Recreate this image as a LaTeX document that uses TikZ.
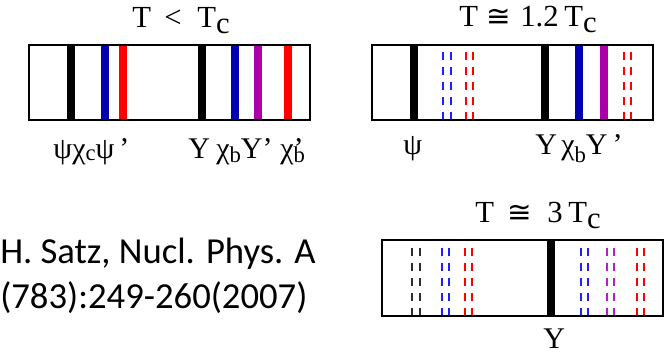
\documentclass[tikz,border=0pt]{standalone}
\usepackage{fontspec}
\setmainfont{Liberation Serif}
\newfontfamily\citefont{Carlito}
\newfontfamily\symfont{DejaVu Sans}
\definecolor{dblue}{RGB}{0,0,175}
\definecolor{lblue}{RGB}{30,30,255}
\definecolor{mpurple}{RGB}{170,0,170}
\definecolor{lpurple}{RGB}{180,30,200}
\definecolor{dgray}{RGB}{45,45,45}
\newcommand\lsub[2]{\raisebox{-#1pt}{\fontsize{17}{17}\selectfont #2}}
\newcommand\tsub[1]{\raisebox{-5pt}{#1}}
\newcommand\approxeqsym{{\symfont\fontsize{22}{22}\selectfont ≅}}
\begin{document}
\begin{tikzpicture}[x=0.75pt,y=-0.75pt,
  frame/.style={draw=black,line width=1.5pt},
  bar/.style={line width=6pt},
  dbar/.style={line width=1.5pt,dash pattern=on 6pt off 5.25pt},
  lbl/.style={font=\fontsize{22.5}{22.5}\selectfont,inner sep=0,anchor=base west},
  ttl/.style={font=\fontsize{23}{23}\selectfont,inner sep=0,anchor=base west},
  cite/.style={font=\citefont\fontsize{27.5}{27.5}\selectfont,inner sep=0,anchor=base west}]
\useasboundingbox (0,0) rectangle (666,361);

% ---------- box 1: T < Tc
\draw[bar,black]   (70.5,120) -- (70.5,45);
\draw[bar,dblue]   (104.5,120) -- (104.5,45);
\draw[bar,red]     (122.5,120) -- (122.5,45);
\draw[bar,black]   (201.5,120) -- (201.5,45);
\draw[bar,dblue]   (235,120) -- (235,45);
\draw[bar,mpurple] (257.5,120) -- (257.5,45);
\draw[bar,red]     (287.5,120) -- (287.5,45);
\draw[frame] (29,45) rectangle (310,120);
\node[ttl] (t1a) at (132,27) {T};
\node[ttl] (t1b) at (164,27) {<};
\node[ttl] (t1c) at (197,27) {T\tsub{c}};
\node[lbl] (l1a) at (53,158) {ψ};
\node[lbl] (l1b) at (72,158) {χ\lsub{2}{c}ψ\,’};
\node[lbl] (l1c) at (188,158) {Y};
\node[lbl] (l1d) at (216,158) {χ\lsub{3}{b}Y’};
\node[lbl] (l1e) at (280,158) {χ\rlap{’}\lsub{3}{b}};

% ---------- box 2: T ~ 1.2 Tc
\draw[bar,black]   (413.5,120) -- (413.5,45);
\draw[dbar,lblue]  (443,120) -- (443,45);
\draw[dbar,lblue]  (450.5,120) -- (450.5,45);
\draw[dbar,red]    (466,120) -- (466,45);
\draw[dbar,red]    (473,120) -- (473,45);
\draw[bar,black]   (544.5,120) -- (544.5,45);
\draw[bar,dblue]   (578.5,120) -- (578.5,45);
\draw[bar,mpurple] (604,120) -- (604,45);
\draw[dbar,red]    (623.5,120) -- (623.5,45);
\draw[dbar,red]    (630.5,120) -- (630.5,45);
\draw[frame] (372,45) rectangle (653,120);
\node[ttl] (t2a) at (459,26) {T};
\node[ttl] (t2b) at (486,26) {\approxeqsym};
\node[ttl] (t2c) at (520,26) {1.2};
\node[ttl] (t2d) at (564,26) {T\tsub{c}};
\node[lbl] (l2a) at (403,154) {ψ};
\node[lbl] (l2b) at (535,154) {Y};
\node[lbl] (l2c) at (561,154) {χ\lsub{6}{b}Y\,’};

% ---------- box 3: T ~ 3 Tc
\draw[dbar,dgray]   (412,316) -- (412,240);
\draw[dbar,dgray]   (419.5,316) -- (419.5,240);
\draw[dbar,lblue]   (442,316) -- (442,240);
\draw[dbar,lblue]   (449,316) -- (449,240);
\draw[dbar,red]     (464.5,316) -- (464.5,240);
\draw[dbar,red]     (472,316) -- (472,240);
\draw[bar,black]    (551,316) -- (551,240);
\draw[dbar,lblue]   (580.5,316) -- (580.5,240);
\draw[dbar,lblue]   (588,316) -- (588,240);
\draw[dbar,lpurple] (607,316) -- (607,240);
\draw[dbar,lpurple] (614,316) -- (614,240);
\draw[dbar,red]     (636.5,316) -- (636.5,240);
\draw[dbar,red]     (644,316) -- (644,240);
\draw[frame] (382,240) rectangle (663,316);
\node[ttl] (t3a) at (475,222) {T};
\node[ttl] (t3b) at (507,222) {\approxeqsym};
\node[ttl] (t3c) at (547,222) {3};
\node[ttl] (t3d) at (568,222) {T\tsub{c}};
\node[lbl] (l3) at (543,348) {Y};

% ---------- citation
\node[cite] (c1) at (0,263) {H. Satz, Nucl. Phys. A};
\node[cite] (c2) at (0,308) {(783):249-260(2007)};
\end{tikzpicture}
\end{document}
